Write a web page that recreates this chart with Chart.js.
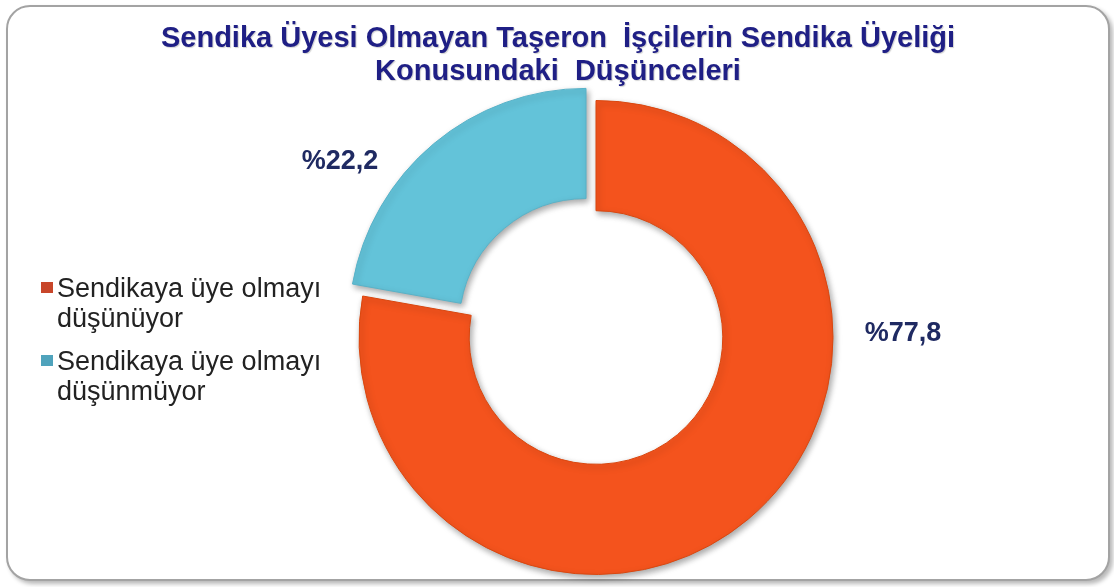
<!DOCTYPE html>
<html>
<head>
<meta charset="utf-8">
<script src="https://cdn.jsdelivr.net/npm/chart.js@4/dist/chart.umd.min.js"></script>
<style>
  html, body { margin: 0; padding: 0; background: #ffffff; }
  #wrap { position: relative; width: 1114px; height: 587px; overflow: hidden; background: #fff; }
  #frame { position: absolute; left: 6px; top: 5px; width: 1100px; height: 572px;
           border: 2px solid #a3a3a3; border-radius: 24px; background: #fff;
           box-shadow: 3px 3px 4px rgba(0,0,0,0.28); }
  #c { position: absolute; left: 0; top: 0; }
</style>
</head>
<body>
<div id="wrap">
  <div id="frame"></div>
  <canvas id="c" width="1114" height="587"></canvas>
</div>
<script>
// ---- data ----
const titleLines = ["Sendika Üyesi Olmayan Taşeron  İşçilerin Sendika Üyeliği", "Konusundaki  Düşünceleri"];
const categories = [["Sendikaya üye olmayı", "düşünüyor"], ["Sendikaya üye olmayı", "düşünmüyor"]];
const values = [77.8, 22.2];
const valueLabels = ["%77,8", "%22,2"];
const sliceColors = ["#F4531D", "#63C3D9"];
const sliceDark = ["#C63F10", "#3F9CB4"];
const markerColors = ["#C8462A", "#4FA3BC"];

// radial bevel gradient for each slice
function sliceFill(ctx) {
  const chart = ctx.chart;
  const i = ctx.dataIndex;
  const meta = chart.getDatasetMeta(0);
  const arc = meta && meta.data[i];
  if (!arc || !arc.outerRadius) return sliceColors[i];
  const r0 = arc.innerRadius, r1 = arc.outerRadius;
  const g = chart.ctx.createRadialGradient(arc.x, arc.y, r0, arc.x, arc.y, r1);
  g.addColorStop(0, sliceDark[i]);
  g.addColorStop(0.06, sliceColors[i]);
  g.addColorStop(0.9, sliceColors[i]);
  g.addColorStop(0.97, sliceDark[i]);
  g.addColorStop(1, sliceDark[i]);
  return g;
}

// ---- custom drawing plugin: title, legend, value labels ----
const decorPlugin = {
  id: 'decor',
  beforeDatasetsDraw(chart) {
    const ctx = chart.ctx;
    ctx.save();
    ctx.shadowColor = 'rgba(0,0,0,0.35)';
    ctx.shadowBlur = 6;
    ctx.shadowOffsetX = 2;
    ctx.shadowOffsetY = 3;
  },
  afterDatasetsDraw(chart) {
    chart.ctx.restore();
  },
  afterDraw(chart) {
    const ctx = chart.ctx;
    const o = chart.options.plugins.decor;
    // title
    ctx.save();
    ctx.font = 'bold 29px "Liberation Sans", Arial, sans-serif';
    ctx.fillStyle = '#1F1F85';
    ctx.textAlign = 'center';
    ctx.textBaseline = 'alphabetic';
    ctx.shadowColor = 'rgba(0,0,0,0.18)';
    ctx.shadowOffsetX = 1; ctx.shadowOffsetY = 1; ctx.shadowBlur = 1;
    titleLines.forEach((t, i) => ctx.fillText(t, o.titleX, o.titleY + i * o.titleLineH));
    ctx.restore();

    // legend
    ctx.save();
    ctx.font = '27px "Liberation Sans", Arial, sans-serif';
    ctx.textBaseline = 'alphabetic';
    let y = o.legendY;
    categories.forEach((lines, i) => {
      ctx.fillStyle = markerColors[i];
      ctx.fillRect(o.legendX - 16, y - 15, 12, 11);
      ctx.fillStyle = '#222222';
      lines.forEach((ln, j) => ctx.fillText(ln, o.legendX, y + j * o.legendLineH));
      y += lines.length * o.legendLineH + o.legendGap;
    });
    ctx.restore();

    // value labels, placed relative to the doughnut centre
    const arc = chart.getDatasetMeta(0).data[0];
    ctx.save();
    ctx.font = 'bold 27px "Liberation Sans", Arial, sans-serif';
    ctx.fillStyle = '#1F2A62';
    ctx.textAlign = 'center';
    ctx.textBaseline = 'middle';
    valueLabels.forEach((lab, i) => {
      const p = o.labelOffsets[i];
      ctx.fillText(lab, arc.x + p[0], arc.y + p[1]);
    });
    ctx.restore();
  }
};

new Chart(document.getElementById('c'), {
  type: 'doughnut',
  data: {
    labels: categories,
    datasets: [{
      data: values,
      backgroundColor: sliceFill,
      borderColor: ['#D9470F', '#58B2C8'],
      borderWidth: 1,
      offset: [0, 62],
      clip: false
    }]
  },
  options: {
    responsive: false,
    animation: false,
    radius: 237,
    cutout: '53.5%',
    rotation: 0,
    layout: { padding: { left: 78, right: 0, top: 88, bottom: 0 } },
    plugins: {
      legend: { display: false },
      title: { display: false },
      tooltip: { enabled: false },
      decor: {
        titleX: 558, titleY: 47, titleLineH: 33,
        legendX: 57, legendY: 297, legendLineH: 30, legendGap: 13,
        labelOffsets: [[307, -4], [-256, -176]]
      }
    }
  },
  plugins: [decorPlugin]
});
</script>
</body>
</html>
